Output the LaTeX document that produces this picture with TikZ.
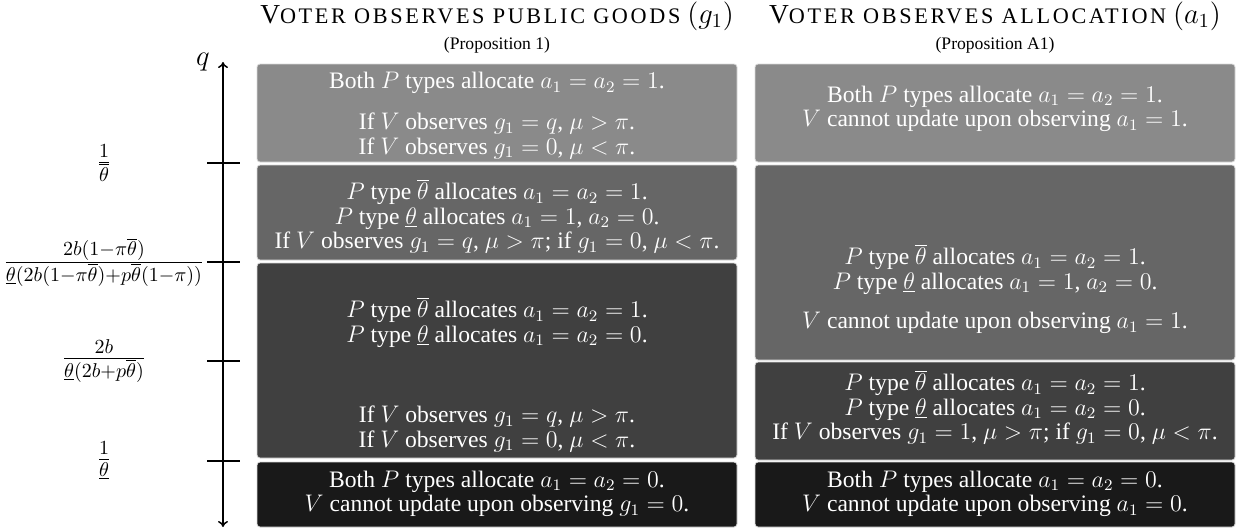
\documentclass[tikz,border=0pt]{standalone}
\usepackage[no-math]{fontspec}
\setmainfont{Liberation Serif}
\newfontfamily\scsp[LetterSpace=12]{Liberation Serif}
\usetikzlibrary{arrows.meta}
\definecolor{cA}{gray}{0.54}
\definecolor{cB}{gray}{0.40}
\definecolor{cC}{gray}{0.25}
\definecolor{cD}{gray}{0.10}
\newcommand{\boxfont}{\fontsize{11.8}{12.3}\selectfont}
\newcommand{\hdbig}{\fontsize{13.7}{15}\selectfont}
\newcommand{\hdsmall}{\fontsize{11.1}{12}\selectfont\scsp}
\newcommand{\propfont}{\fontsize{8.8}{10}\selectfont}
\newcommand{\labfont}{\fontsize{13.7}{15}\selectfont}
\newcommand{\ubar}[1]{\underline{#1}}
\begin{document}
\begin{tikzpicture}[x=0.5pt,y=-0.5pt,
  region/.style={draw=gray!30,line width=0.4pt,rounded corners=1.5pt,inner sep=0pt,minimum width=240pt},
  txt/.style={text=white,font=\boxfont,align=center,inner sep=0pt},
  tick/.style={line width=0.75pt},
  lab/.style={font=\labfont,inner sep=0pt}]
\useasboundingbox (0,0) rectangle (1241,531);
% headers
\node[inner sep=0pt] (h1) at (497,16) {{\hdbig V}{\hdsmall OTER OBSERVES PUBLIC GOODS}{\hdbig\ $(g_1)$}};
\node[inner sep=0pt,font=\propfont] (p1) at (497,45) {(Proposition 1)};
\node[inner sep=0pt] (h2) at (995,16) {{\hdbig V}{\hdsmall OTER OBSERVES ALLOCATION}{\hdbig\ $(a_1)$}};
\node[inner sep=0pt,font=\propfont] (p2) at (995,45) {(Proposition A1)};
% axis
\coordinate (top) at (223,62);
\coordinate (bot) at (223,527);
\draw[line width=0.75pt,{To[length=3pt,width=5pt]}-{To[length=3pt,width=5pt]}] (bot) -- (top);
\node[font=\fontsize{14}{16}\selectfont,inner sep=0pt] (q) at (203,62) {$q$};
\foreach \n/\y in {t1/163,t2/262,t3/361,t4/461}{
  \coordinate (\n l) at (207,\y);
  \coordinate (\n r) at (240,\y);
  \draw[tick] (\n l) -- (\n r);
}
\node[lab] (l1) at (104,163) {$\frac{1}{\overline{\theta}}$};
\node[lab] (l2) at (104,262) {$\frac{2b(1-\pi\overline{\theta})}{\ubar{\theta}(2b(1-\pi\overline{\theta})+p\overline{\theta}(1-\pi))}$};
\node[lab] (l3) at (104,361) {$\frac{2b}{\ubar{\theta}(2b+p\overline{\theta})}$};
\node[lab] (l4) at (104,461) {$\frac{1}{\ubar{\theta}}$};
% left column boxes
\node[region,fill=cA,minimum height=49pt] (L1) at (497,113) {};
\node[region,fill=cB,minimum height=47.5pt] (L2) at (497,212.5) {};
\node[region,fill=cC,minimum height=97.5pt] (L3) at (497,360.5) {};
\node[region,fill=cD,minimum height=32.5pt] (L4) at (497,494.5) {};
% right column boxes
\node[region,fill=cA,minimum height=49pt] (R1) at (995,113) {};
\node[region,fill=cB,minimum height=97.5pt] (R2) at (995,262.5) {};
\node[region,fill=cC,minimum height=49pt] (R3) at (995,411) {};
\node[region,fill=cD,minimum height=32.5pt] (R4) at (995,494.5) {};
% left texts
\node[txt] (L1a) at (497,83) {Both $P$ types allocate $a_1=a_2=1$.};
\node[txt] (L1b) at (497,136) {If $V$ observes $g_1=q$, $\mu>\pi$.\\If $V$ observes $g_1=0$, $\mu<\pi$.};
\node[txt] (L2a) at (497,216) {$P$ type $\overline{\theta}$ allocates $a_1=a_2=1$.\\$P$ type $\ubar{\theta}$ allocates $a_1=1$, $a_2=0$.\\If $V$ observes $g_1=q$, $\mu>\pi$; if $g_1=0$, $\mu<\pi$.};
\node[txt] (L3a) at (497,322) {$P$ type $\overline{\theta}$ allocates $a_1=a_2=1$.\\$P$ type $\ubar{\theta}$ allocates $a_1=a_2=0$.};
\node[txt] (L3b) at (497,429) {If $V$ observes $g_1=q$, $\mu>\pi$.\\If $V$ observes $g_1=0$, $\mu<\pi$.};
\node[txt] (L4a) at (497,494) {Both $P$ types allocate $a_1=a_2=0$.\\$V$ cannot update upon observing $g_1=0$.};
% right texts
\node[txt] (R1a) at (995,109) {Both $P$ types allocate $a_1=a_2=1$.\\$V$ cannot update upon observing $a_1=1$.};
\node[txt] (R2a) at (995,269) {$P$ type $\overline{\theta}$ allocates $a_1=a_2=1$.\\$P$ type $\ubar{\theta}$ allocates $a_1=1$, $a_2=0$.};
\node[txt] (R2b) at (995,323) {$V$ cannot update upon observing $a_1=1$.};
\node[txt] (R3a) at (995,395) {$P$ type $\overline{\theta}$ allocates $a_1=a_2=1$.\\$P$ type $\ubar{\theta}$ allocates $a_1=a_2=0$.};
\node[txt] (R3b) at (995,434) {If $V$ observes $g_1=1$, $\mu>\pi$; if $g_1=0$, $\mu<\pi$.};
\node[txt] (R4a) at (995,494) {Both $P$ types allocate $a_1=a_2=0$.\\$V$ cannot update upon observing $a_1=0$.};
\end{tikzpicture}
\end{document}
